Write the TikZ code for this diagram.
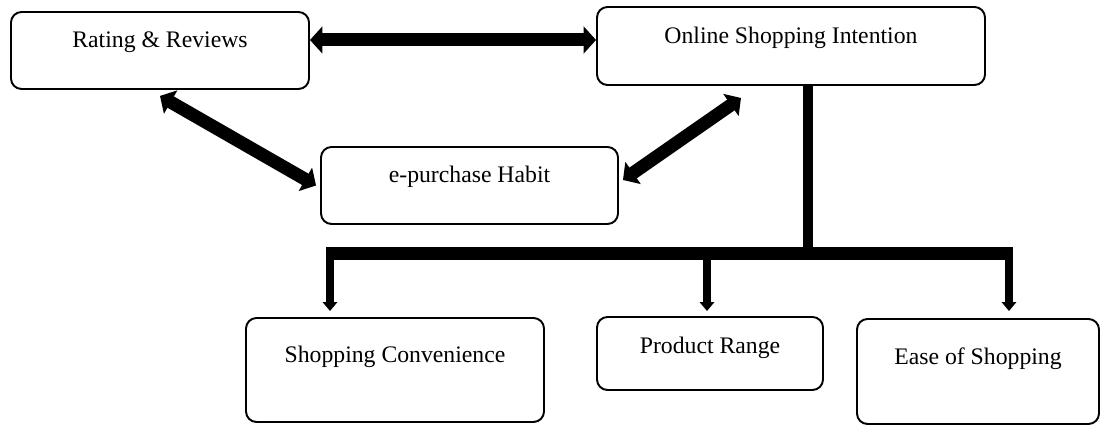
\documentclass[tikz,border=0pt]{standalone}
\usepackage{fontspec}
\setmainfont{Liberation Serif}
\usetikzlibrary{arrows.meta}

\begin{document}
\begin{tikzpicture}[line join=round,>={Triangle[length=7pt,width=15pt]},x=1.0cm,y=1.0cm,
  ybox/.style={draw, line width=1.1pt, rounded corners=6pt, inner sep=3pt,
    font=\fontsize{13.5}{16}\selectfont, text height=12pt, text depth=15pt},
  fatarrow/.style={<->, line width=7.4pt},
  droparrow/.style={-{Triangle[length=5pt,width=8pt]}, line width=4.5pt}]
\useasboundingbox (0.0, 0.0) rectangle (22.0, 8.5);

\node [ybox, minimum width=5.96cm, minimum height=1.54cm] (rr) at (3.20, 7.49) {Rating \& Reviews};
\node [ybox, minimum width=7.76cm, minimum height=1.56cm] (osi) at (15.82, 7.58) {Online Shopping Intention};
\node [ybox, minimum width=5.94cm, minimum height=1.54cm] (eph) at (9.39, 4.79) {e-purchase Habit};

\node [ybox, minimum width=5.96cm, minimum height=2.08cm, text depth=20pt] (sc) at (7.90, 1.10) {Shopping Convenience};
\node [ybox, minimum width=4.52cm, minimum height=1.46cm, text depth=12.5pt] (pr) at (14.20, 1.43) {Product Range};
\node [ybox, minimum width=4.84cm, minimum height=2.10cm, text depth=19.5pt] (eos) at (19.56, 1.07) {Ease of Shopping};

\coordinate (ra) at ([yshift=0.21cm]rr.east);
\draw [fatarrow] (ra) -- (ra -| osi.west);
\draw [fatarrow] ([yshift=-0.12cm]rr.south) -- ([xshift=-0.08cm]eph.west);
\draw [fatarrow] ([shift={(-1.0,-0.24)}]osi.south) -- ([shift={(0.08,0.11)}]eph.east);

\coordinate (tt) at ([xshift=0.34cm]osi.south);
\coordinate (jn) at (16.16, 3.42);
\coordinate (bl) at (6.52, 3.42);
\coordinate (br) at (20.26, 3.42);
\draw [line width=5.7pt] (tt) -- (jn);
\draw [line width=7.4pt] (bl) -- (br);

\coordinate (d1) at (6.60, 3.42);
\coordinate (d2) at (14.14, 3.42);
\coordinate (d3) at (20.18, 3.42);
\draw [droparrow] (d1) -- ([shift={(-1.30,0.12)}]sc.north);
\draw [droparrow] (d2) -- ([shift={(-0.06,0.10)}]pr.north);
\draw [droparrow] (d3) -- ([shift={(0.62,0.14)}]eos.north);

\end{tikzpicture}
\end{document}
